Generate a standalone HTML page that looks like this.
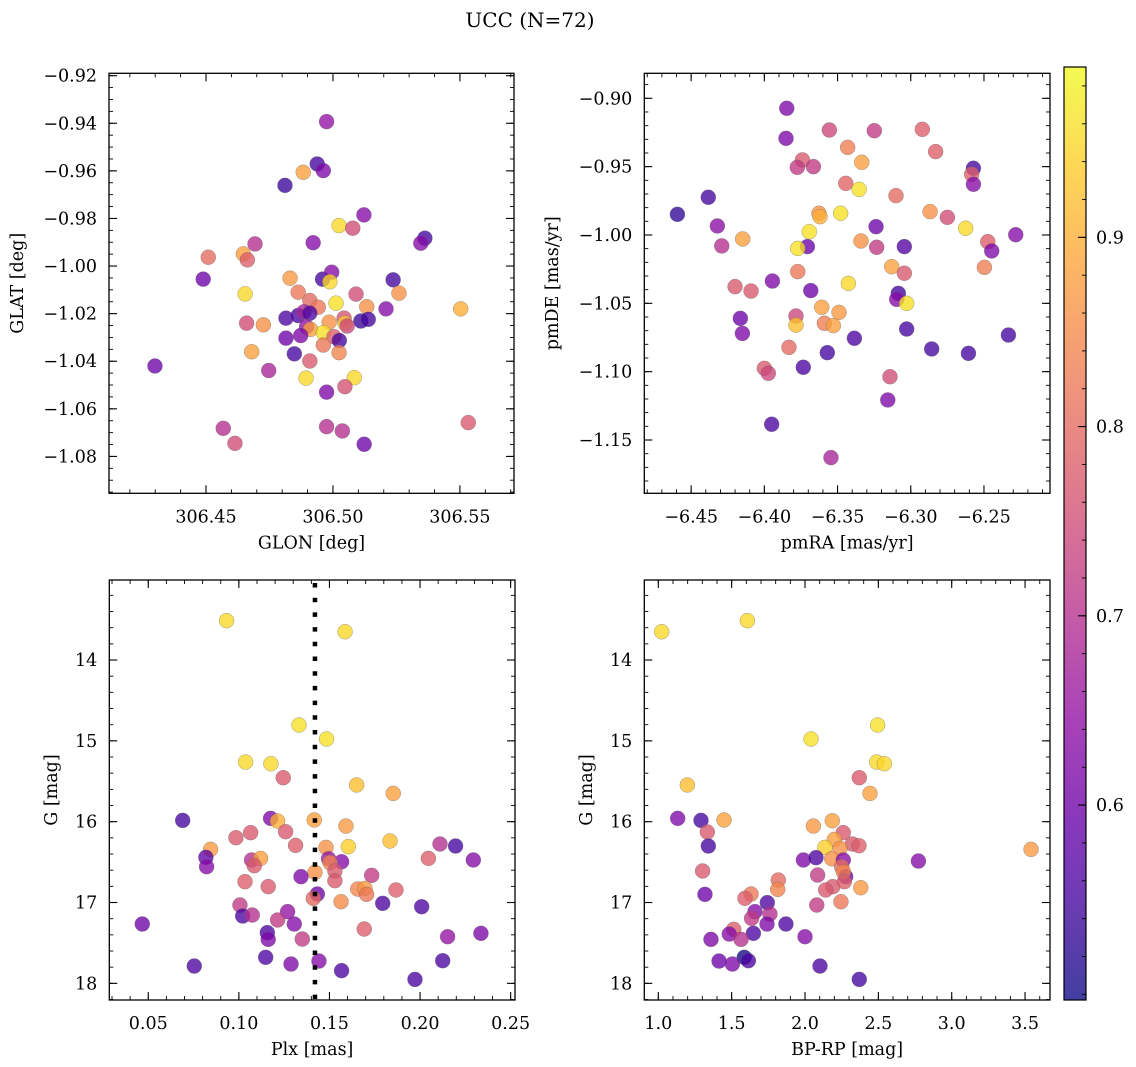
<!DOCTYPE html>
<html><head><meta charset="utf-8"><style>
html,body{margin:0;padding:0;background:#fff;}
svg{display:block;font-family:"DejaVu Serif","Liberation Serif",serif;}
</style></head><body>
<svg id="fig" width="1136" height="1067" viewBox="0 0 1136 1067" xmlns="http://www.w3.org/2000/svg">
<text x="530" y="27" font-size="20" text-anchor="middle">UCC (N=72)</text>
</svg>
<script>
// ---- data ----
const tlGlon=[306.4975,306.4938,306.4962,306.4883,306.4811,306.5122,306.5024,306.5078,306.5362,306.5346,306.4922,306.4693,306.4509,306.4647,306.4663,306.4489,306.4831,306.4959,306.4995,306.4988,306.5237,306.4654,306.4863,306.5091,306.5260,306.4909,306.5012,306.4942,306.5133,306.5209,306.5503,306.4815,306.4863,306.4886,306.4909,306.5110,306.5139,306.4660,306.4726,306.4985,306.5044,306.5047,306.5056,306.4896,306.4912,306.4962,306.5004,306.5025,306.4815,306.4873,306.4962,306.5024,306.4680,306.4848,306.4909,306.4299,306.4747,306.4894,306.5084,306.4975,306.5047,306.4568,306.4614,306.4975,306.5037,306.5123,306.5533];
const tlGlat=[-0.9393,-0.9571,-0.9599,-0.9606,-0.9661,-0.9785,-0.9830,-0.9841,-0.9883,-0.9904,-0.9902,-0.9907,-0.9963,-0.9949,-0.9974,-1.0055,-1.0051,-1.0055,-1.0026,-1.0066,-1.0058,-1.0117,-1.0110,-1.0118,-1.0114,-1.0145,-1.0156,-1.0173,-1.0171,-1.0180,-1.0180,-1.0219,-1.0208,-1.0192,-1.0198,-1.0231,-1.0224,-1.0240,-1.0247,-1.0236,-1.0219,-1.0240,-1.0252,-1.0255,-1.0266,-1.0280,-1.0297,-1.0313,-1.0303,-1.0292,-1.0332,-1.0364,-1.0360,-1.0369,-1.0399,-1.0420,-1.0439,-1.0471,-1.0469,-1.0530,-1.0507,-1.0682,-1.0745,-1.0675,-1.0693,-1.0749,-1.0658];
const tlProb=[0.65,0.55,0.62,0.88,0.54,0.63,0.95,0.75,0.55,0.63,0.63,0.70,0.80,0.88,0.78,0.60,0.87,0.55,0.63,0.95,0.55,0.95,0.82,0.75,0.86,0.80,0.96,0.82,0.86,0.63,0.90,0.56,0.56,0.68,0.56,0.54,0.55,0.75,0.86,0.86,0.76,0.93,0.74,0.65,0.88,0.96,0.78,0.55,0.60,0.62,0.82,0.84,0.88,0.55,0.77,0.60,0.68,0.95,0.95,0.62,0.76,0.70,0.75,0.70,0.70,0.60,0.77];

const trPmra=[-6.3847,-6.3852,-6.3556,-6.3249,-6.2921,-6.3431,-6.2830,-6.3335,-6.3740,-6.3775,-6.3665,-6.2572,-6.2584,-6.2572,-6.3444,-6.3353,-6.3101,-6.4383,-6.4594,-6.3627,-6.3620,-6.3479,-6.2868,-6.2750,-6.4321,-6.3237,-6.2625,-6.3693,-6.2283,-6.4148,-6.3340,-6.2474,-6.4291,-6.3706,-6.3772,-6.3233,-6.3044,-6.2447,-6.3130,-6.2497,-6.3772,-6.3044,-6.3426,-6.3945,-6.4200,-6.4091,-6.3683,-6.3085,-6.3096,-6.3028,-6.3608,-6.3490,-6.4164,-6.3784,-6.3784,-6.3590,-6.3529,-6.3028,-6.4150,-6.3385,-6.2333,-6.3570,-6.2857,-6.2606,-6.3832,-6.4000,-6.3973,-6.3734,-6.3142,-6.3157,-6.3950,-6.3545];
const trPmde=[-0.9073,-0.9293,-0.9232,-0.9237,-0.9227,-0.9359,-0.9390,-0.9468,-0.9451,-0.9505,-0.9500,-0.9512,-0.9556,-0.9629,-0.9622,-0.9666,-0.9712,-0.9724,-0.9849,-0.9841,-0.9866,-0.9841,-0.9829,-0.9871,-0.9934,-0.9939,-0.9951,-0.9976,-0.9998,-1.0029,-1.0044,-1.0049,-1.0080,-1.0085,-1.0098,-1.0090,-1.0085,-1.0117,-1.0232,-1.0237,-1.0268,-1.0280,-1.0354,-1.0337,-1.0378,-1.0410,-1.0407,-1.0427,-1.0471,-1.0500,-1.0529,-1.0566,-1.0610,-1.0593,-1.0659,-1.0646,-1.0663,-1.0688,-1.0720,-1.0756,-1.0732,-1.0861,-1.0834,-1.0866,-1.0822,-1.0976,-1.1012,-1.0968,-1.1037,-1.1207,-1.1385,-1.1629];
const trProb=[0.62,0.62,0.74,0.72,0.78,0.83,0.78,0.88,0.77,0.72,0.72,0.55,0.78,0.63,0.79,0.96,0.80,0.55,0.53,0.86,0.90,0.96,0.86,0.75,0.64,0.60,0.95,0.96,0.63,0.88,0.86,0.78,0.70,0.60,0.96,0.72,0.57,0.62,0.88,0.83,0.82,0.77,0.95,0.62,0.77,0.77,0.60,0.55,0.63,0.96,0.88,0.87,0.60,0.74,0.92,0.83,0.88,0.55,0.62,0.56,0.55,0.55,0.55,0.55,0.80,0.77,0.74,0.56,0.75,0.62,0.56,0.68];

const blPlx=[0.0932,0.1586,0.1332,0.1484,0.1037,0.1177,0.1245,0.1650,0.1852,0.0690,0.1175,0.1214,0.1416,0.1591,0.1065,0.1258,0.0984,0.1313,0.1481,0.1604,0.1834,0.2110,0.2196,0.0844,0.0818,0.0822,0.1070,0.1120,0.1085,0.1495,0.1567,0.1503,0.2046,0.2294,0.1530,0.1420,0.1343,0.1733,0.1034,0.1162,0.1530,0.1656,0.1696,0.1705,0.1867,0.1433,0.1411,0.1564,0.1794,0.2009,0.1006,0.1021,0.1074,0.1269,0.0467,0.1214,0.1306,0.1692,0.1157,0.1162,0.1350,0.2152,0.2336,0.1148,0.1288,0.1442,0.0754,0.1567,0.2125,0.1972];
const blG=[13.513,13.650,14.804,14.977,15.262,15.283,15.456,15.546,15.650,15.984,15.959,15.992,15.979,16.054,16.136,16.124,16.198,16.293,16.318,16.309,16.239,16.276,16.301,16.342,16.441,16.557,16.474,16.454,16.544,16.458,16.495,16.507,16.454,16.474,16.610,16.627,16.680,16.664,16.742,16.804,16.730,16.833,16.825,16.899,16.845,16.895,16.948,16.990,17.010,17.052,17.031,17.167,17.155,17.113,17.266,17.216,17.266,17.328,17.373,17.456,17.452,17.423,17.381,17.678,17.761,17.724,17.786,17.843,17.720,17.951];
const blProb=[0.95,0.95,0.96,0.96,0.95,0.95,0.77,0.92,0.88,0.55,0.62,0.90,0.88,0.87,0.77,0.77,0.77,0.78,0.86,0.94,0.92,0.70,0.55,0.87,0.58,0.63,0.70,0.88,0.77,0.66,0.63,0.84,0.78,0.63,0.77,0.86,0.62,0.72,0.78,0.77,0.77,0.84,0.87,0.82,0.78,0.60,0.80,0.85,0.56,0.56,0.72,0.56,0.70,0.65,0.60,0.72,0.63,0.78,0.56,0.62,0.72,0.65,0.62,0.56,0.62,0.63,0.56,0.56,0.56,0.56];
const plxMedian=0.142;

const brBpRp=[1.023,1.607,2.495,2.041,2.489,2.541,2.370,1.198,2.443,1.132,1.291,1.448,2.186,2.057,1.334,2.261,2.200,2.323,2.368,1.341,2.136,2.239,3.541,1.989,2.075,2.182,2.261,2.773,1.302,2.250,2.277,2.261,2.086,1.818,1.814,2.189,2.141,2.268,2.380,1.318,1.632,1.591,2.245,1.743,2.080,1.659,1.761,1.636,1.741,1.870,1.514,1.484,1.648,1.564,1.359,2.000,1.586,1.614,1.414,1.505,2.102,2.370];
const brG=[13.650,13.513,14.804,14.977,15.262,15.283,15.456,15.546,15.650,15.959,15.984,15.979,15.988,16.054,16.128,16.136,16.219,16.276,16.297,16.301,16.318,16.330,16.342,16.474,16.445,16.458,16.474,16.487,16.610,16.557,16.680,16.619,16.660,16.722,16.837,16.804,16.845,16.742,16.817,16.899,16.895,16.948,16.990,17.002,17.031,17.113,17.142,17.196,17.266,17.266,17.332,17.390,17.381,17.456,17.456,17.423,17.678,17.720,17.724,17.761,17.786,17.951];
const brProb=[0.95,0.95,0.96,0.96,0.95,0.95,0.77,0.92,0.88,0.62,0.55,0.88,0.88,0.87,0.77,0.77,0.88,0.77,0.78,0.55,0.94,0.86,0.87,0.62,0.56,0.86,0.63,0.63,0.77,0.80,0.60,0.84,0.72,0.80,0.84,0.77,0.77,0.78,0.87,0.60,0.82,0.78,0.82,0.56,0.72,0.63,0.70,0.72,0.62,0.56,0.78,0.63,0.56,0.70,0.62,0.63,0.50,0.56,0.60,0.62,0.56,0.55];

const tlXTicks=[306.45,306.50,306.55];
const tlXLabels=["306.45","306.50","306.55"];
const tlYTicks=[-0.92,-0.94,-0.96,-0.98,-1.00,-1.02,-1.04,-1.06,-1.08];
const tlYLabels=["\u22120.92","\u22120.94","\u22120.96","\u22120.98","\u22121.00","\u22121.02","\u22121.04","\u22121.06","\u22121.08"];
const trXTicks=[-6.45,-6.40,-6.35,-6.30,-6.25];
const trXLabels=["\u22126.45","\u22126.40","\u22126.35","\u22126.30","\u22126.25"];
const trYTicks=[-0.90,-0.95,-1.00,-1.05,-1.10,-1.15];
const trYLabels=["\u22120.90","\u22120.95","\u22121.00","\u22121.05","\u22121.10","\u22121.15"];
const blXTicks=[0.05,0.10,0.15,0.20,0.25];
const blXLabels=["0.05","0.10","0.15","0.20","0.25"];
const gTicks=[14,15,16,17,18];
const gLabels=["14","15","16","17","18"];
const brXTicks=[1.0,1.5,2.0,2.5,3.0,3.5];
const brXLabels=["1.0","1.5","2.0","2.5","3.0","3.5"];
const cbTicks=[0.6,0.7,0.8,0.9];
const cbLabels=["0.6","0.7","0.8","0.9"];
const cbMin=0.497, cbMax=0.990;

// ---- drawing ----
const NS="http://www.w3.org/2000/svg";
const svg=document.getElementById('fig');
const FS=17.5;
function mk(tag,attrs,parent){const e=document.createElementNS(NS,tag);for(const k in attrs)e.setAttribute(k,attrs[k]);(parent||svg).appendChild(e);return e;}
const stops=["#0d0887","#41049d","#6a00a8","#8f0da4","#b12a90","#cc4778","#e16462","#f2844b","#fca636","#fcce25","#f0f921"];
function hx(s){return [parseInt(s.substr(1,2),16),parseInt(s.substr(3,2),16),parseInt(s.substr(5,2),16)];}
function plasma(t){t=Math.max(0,Math.min(1,t));const f=t*10,i=Math.min(9,Math.floor(f)),u=f-i;const a=hx(stops[i]),b=hx(stops[i+1]);return "rgb("+a.map((v,k)=>Math.round(v+(b[k]-v)*u)).join(",")+")";}
function lin(d0,d1,r0,r1){return v=>r0+(v-d0)/(d1-d0)*(r1-r0);}

function panel(cfg){
  const g=mk('g',{});
  
  
  const {x0,x1,y0,y1}=cfg.box;
  const sx=lin(cfg.xd[0],cfg.xd[1],x0,x1), sy=lin(cfg.yd[0],cfg.yd[1],y0,y1);
  const pg=mk('g',{},g);
  
  
  cfg.xs.forEach((xv,i)=>{
    const c=mk('circle',{cx:sx(xv),cy:sy(cfg.ys[i]),r:7.5,fill:plasma((cfg.cs[i]-cbMin)/(cbMax-cbMin)),'fill-opacity':0.78,stroke:'#666','stroke-width':0.5,'stroke-opacity':0.6},pg);
    
    
  });
  if(cfg.vline!==undefined){
    const l=mk('line',{x1:sx(cfg.vline),x2:sx(cfg.vline),y1:y0+3,y2:y1,stroke:'#000','stroke-width':4.5,'stroke-dasharray':'4.5 10.2'},g);
    
    
  }
  const fr=mk('rect',{x:x0,y:Math.min(y0,y1),width:x1-x0,height:Math.abs(y1-y0),fill:'none',stroke:'#000','stroke-width':1.3},g);
  
  
  const top=Math.min(y0,y1),bot=Math.max(y0,y1);
  const dmin=Math.min(...cfg.xd),dmax=Math.max(...cfg.xd);
  for(let v=Math.ceil(dmin/cfg.xminor)*cfg.xminor;v<=dmax;v+=cfg.xminor){const X=sx(v);mk('line',{x1:X,x2:X,y1:bot,y2:bot-4,stroke:'#000','stroke-width':0.9},g);mk('line',{x1:X,x2:X,y1:top,y2:top+4,stroke:'#000','stroke-width':0.9},g);}
  const emin=Math.min(...cfg.yd),emax=Math.max(...cfg.yd);
  for(let v=Math.ceil(emin/cfg.yminor)*cfg.yminor;v<=emax;v+=cfg.yminor){const Y=sy(v);mk('line',{x1:x0,x2:x0+4,y1:Y,y2:Y,stroke:'#000','stroke-width':0.9},g);mk('line',{x1:x1,x2:x1-4,y1:Y,y2:Y,stroke:'#000','stroke-width':0.9},g);}
  cfg.xt.forEach((v,i)=>{const X=sx(v);
    mk('line',{x1:X,x2:X,y1:bot,y2:bot-8,stroke:'#000','stroke-width':1.1},g);mk('line',{x1:X,x2:X,y1:top,y2:top+8,stroke:'#000','stroke-width':1.1},g);
    const t=mk('text',{x:X,y:bot+29,'font-size':FS,'text-anchor':'middle'},g);t.textContent=cfg.xl[i];
    
    });
  cfg.yt.forEach((v,i)=>{const Y=sy(v);
    mk('line',{x1:x0,x2:x0+8,y1:Y,y2:Y,stroke:'#000','stroke-width':1.1},g);mk('line',{x1:x1,x2:x1-8,y1:Y,y2:Y,stroke:'#000','stroke-width':1.1},g);
    const t=mk('text',{x:x0-12,y:Y+6,'font-size':FS,'text-anchor':'end'},g);t.textContent=cfg.yl[i];
    
    });
  const xt=mk('text',{x:(x0+x1)/2,y:bot+55,'font-size':FS,'text-anchor':'middle'},g);xt.textContent=cfg.xlabel;
  
  
  const yx=cfg.ylx, yy=(top+bot)/2;
  const yt=mk('text',{x:yx,y:yy,'font-size':FS,'text-anchor':'middle',transform:'rotate(-90 '+yx+' '+yy+')'},g);yt.textContent=cfg.ylabel;
  
  
}

panel({name:'glon-glat-panel',box:{x0:109,x1:514,y0:73.3,y1:493.3},xd:[306.4118,306.5713],yd:[-0.9190,-1.0955],xs:tlGlon,ys:tlGlat,cs:tlProb,xt:tlXTicks,xl:tlXLabels,yt:tlYTicks,yl:tlYLabels,xminor:0.01,yminor:0.005,xlabel:'GLON [deg]',ylabel:'GLAT [deg]',ylx:23});
panel({name:'proper-motion-panel',box:{x0:644.3,x1:1050,y0:73.3,y1:493.3},xd:[-6.4820,-6.2049],yd:[-0.8817,-1.1890],xs:trPmra,ys:trPmde,cs:trProb,xt:trXTicks,xl:trXLabels,yt:trYTicks,yl:trYLabels,xminor:0.01,yminor:0.01,xlabel:'pmRA [mas/yr]',ylabel:'pmDE [mas/yr]',ylx:558});
panel({name:'plx-g-panel',box:{x0:109.3,x1:515,y0:580,y1:1000},xd:[0.0285,0.2524],yd:[13.01,18.206],xs:blPlx,ys:blG,cs:blProb,xt:blXTicks,xl:blXLabels,yt:gTicks,yl:gLabels,xminor:0.01,yminor:0.2,xlabel:'Plx [mas]',ylabel:'G [mag]',ylx:57,vline:plxMedian});
panel({name:'cmd-panel',box:{x0:644.3,x1:1050,y0:580,y1:1000},xd:[0.9045,3.670],yd:[13.01,18.206],xs:brBpRp,ys:brG,cs:brProb,xt:brXTicks,xl:brXLabels,yt:gTicks,yl:gLabels,xminor:0.1,yminor:0.2,xlabel:'BP-RP [mag]',ylabel:'G [mag]',ylx:592});

const cb=mk('g',{});


const defs=mk('defs',{},cb);
const grad=mk('linearGradient',{id:'pl',x1:0,y1:1,x2:0,y2:0},defs);
for(let i=0;i<=20;i++){mk('stop',{offset:(i/20),'stop-color':plasma(i/20),'stop-opacity':0.78},grad);}
const cbx0=1064,cbx1=1086,cby0=67,cby1=1000;
mk('rect',{x:cbx0,y:cby0,width:cbx1-cbx0,height:cby1-cby0,fill:'url(#pl)',stroke:'#000','stroke-width':1.2},cb);
const cs=lin(cbMin,cbMax,cby1,cby0);
for(let v=0.50;v<=0.99;v+=0.02){const Y=cs(v);mk('line',{x1:cbx1,x2:cbx1-4,y1:Y,y2:Y,stroke:'#000','stroke-width':0.9},cb);}
cbTicks.forEach((v,i)=>{const Y=cs(v);mk('line',{x1:cbx1,x2:cbx1-8,y1:Y,y2:Y,stroke:'#000','stroke-width':1.1},cb);
  const t=mk('text',{x:1096,y:Y+6,'font-size':FS},cb);t.textContent=cbLabels[i];
  
  });
</script>
</body></html>
